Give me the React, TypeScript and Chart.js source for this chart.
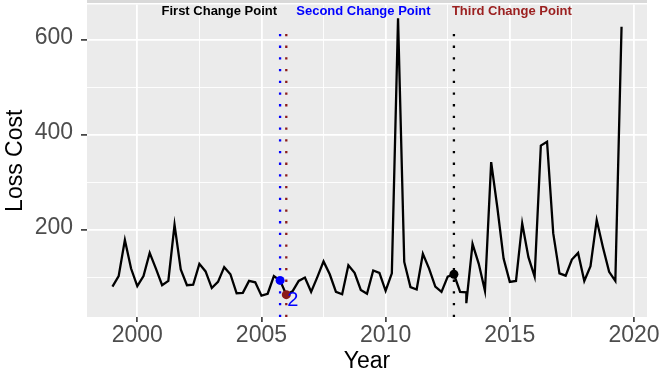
import React, { useEffect, useRef } from 'react';
import { Chart, registerables } from 'chart.js';

Chart.register(...registerables);

// ---- Data ----
const firstYear = 1999; // first quarter of the series
const quarterStep = 0.25;
const lossCost = [
  80, 102, 178, 118,
  81, 102, 151, 118,
  83, 92, 210, 116,
  83, 84, 128, 112,
  77, 90, 121, 106,
  66, 67, 92, 89,
  61, 65, 102, 93,
  63, 70, 92, 99,
  69, 100, 133, 106,
  69, 64, 125, 109,
  73, 65, 114, 109,
  71, 108, 645, 132,
  79, 74, 149, 118,
  80, 69, 101, 106,
  69, 68, 170, 128,
  71, 342, 246, 139,
  90, 92, 213, 142,
  101, 377, 385, 192,
  108, 103, 137, 151,
  92, 123, 220, 163,
  111, 92, 627,
];
const extraYear = 2013.25;
const extraValue = 45;

const xTickYears = [2000, 2005, 2010, 2015, 2020];
const xMinorYears = [2002.5, 2007.5, 2012.5, 2017.5];
const yTickValues = [200, 400, 600];
const yMinorValues = [100, 300, 500];

const changePointYears = [2005.75, 2006.0, 2012.75];
const changePointColors = ['#0000FF', '#8B1A1A', '#000000'];
const changeLabels = ['First Change Point', 'Second Change Point', 'Third Change Point'];
const changeLabelColors = ['#000000', '#0000FF', '#9B2020'];
const vlineTopValue = 632;
const pointLabel = '2';

const X_MIN = 1997.975;
const X_MAX = 2020.525;
const Y_MIN = 16;
const Y_MAX = 674;

const FONT = '"Liberation Sans", Arial, Helvetica, sans-serif';

function buildSeries() {
  const pts: { x: number; y: number }[] = [];
  lossCost.forEach((v, i) => {
    const x = firstYear + i * quarterStep;
    pts.push({ x, y: v });
    if (Math.abs(x - extraYear) < 1e-9) pts.push({ x: extraYear, y: extraValue });
  });
  return pts;
}

function valueAt(year: number) {
  return lossCost[Math.round((year - firstYear) / quarterStep)];
}

export default function App() {
  const ref = useRef<HTMLCanvasElement | null>(null);

  useEffect(() => {
    document.body.style.margin = '0';
    const canvas = ref.current!;
    const series = buildSeries();

    const decor = {
      id: 'decor',
      beforeDraw(chart: any) {
        const { ctx, chartArea: a } = chart;
        ctx.save();
        ctx.fillStyle = '#EBEBEB';
        ctx.fillRect(a.left, a.top, a.right - a.left, a.bottom - a.top);
        ctx.fillStyle = '#D9D9D9';
        ctx.fillRect(a.left, 0, a.right - a.left, 3);
        ctx.restore();
      },
      beforeDatasetsDraw(chart: any) {
        const { ctx, chartArea: a, scales } = chart;
        ctx.save();
        changePointYears.forEach((yr, i) => {
          const x = scales.x.getPixelForValue(yr);
          const yTop = scales.y.getPixelForValue(vlineTopValue);
          ctx.strokeStyle = changePointColors[i];
          ctx.lineWidth = 2.3;
          ctx.setLineDash([2.3, 9.4]);
          ctx.beginPath();
          ctx.moveTo(x, a.bottom);
          ctx.lineTo(x, yTop);
          ctx.stroke();
        });
        ctx.restore();
      },
      afterDraw(chart: any) {
        const { ctx, chartArea: a, scales } = chart;
        ctx.save();
        // "2" label near second change point
        const px = scales.x.getPixelForValue(changePointYears[1]);
        const py = scales.y.getPixelForValue(valueAt(changePointYears[1]));
        ctx.fillStyle = '#0000FF';
        ctx.font = `20px ${FONT}`;
        ctx.textAlign = 'left';
        ctx.textBaseline = 'alphabetic';
        ctx.fillText(pointLabel, px + 1, py + 11);

        // change point labels
        ctx.font = `bold 13px ${FONT}`;
        const offsets = [-3, 10, -2];
        const aligns = ['right', 'left', 'left'];
        changeLabels.forEach((t, i) => {
          const x = scales.x.getPixelForValue(changePointYears[i]) + offsets[i];
          ctx.fillStyle = changeLabelColors[i];
          ctx.textAlign = aligns[i];
          ctx.fillText(t, x, 15);
        });

        // axis titles
        ctx.fillStyle = '#000000';
        ctx.font = `23px ${FONT}`;
        ctx.textAlign = 'center';
        ctx.fillText('Year', (a.left + a.right) / 2, 368);
        ctx.translate(21.7, (a.top + a.bottom) / 2);
        ctx.rotate(-Math.PI / 2);
        ctx.fillText('Loss Cost', 0, 0);
        ctx.restore();
      },
    };

    const chart = new Chart(canvas, {
      type: 'line',
      data: {
        datasets: [
          ...changePointYears.map((yr, i) => ({
            type: 'scatter' as const,
            data: [{ x: yr, y: valueAt(yr) }],
            pointRadius: 4.5,
            pointBackgroundColor: changePointColors[i],
            pointBorderWidth: 0,
            showLine: false,
            order: 0,
          })),
          {
            data: series,
            borderColor: '#000000',
            borderWidth: 2.3,
            pointRadius: 0,
            tension: 0,
            fill: false,
            order: 1,
          },
        ],
      },
      plugins: [decor],
      options: {
        animation: false,
        responsive: false,
        devicePixelRatio: 1,
        layout: { padding: { left: 0, right: 15, top: 1, bottom: 0 } },
        plugins: { legend: { display: false }, tooltip: { enabled: false } },
        scales: {
          x: {
            type: 'linear',
            min: X_MIN,
            max: X_MAX,
            afterBuildTicks: (s: any) => {
              s.ticks = [...xTickYears, ...xMinorYears].sort((p, q) => p - q).map((v) => ({ value: v }));
            },
            afterFit: (s: any) => {
              s.height = 59;
              s.paddingLeft = 0;
              s.paddingRight = 0;
            },
            border: { display: false },
            grid: {
              color: '#FFFFFF',
              lineWidth: (c: any) => (xTickYears.includes(c.tick?.value) ? 1.8 : 0.9),
              tickColor: (c: any) => (xTickYears.includes(c.tick?.value) ? '#333333' : 'rgba(0,0,0,0)'),
              tickWidth: 1.6,
              tickLength: 5,
              drawTicks: true,
            },
            ticks: {
              autoSkip: false,
              maxRotation: 0,
              padding: 0,
              color: '#4D4D4D',
              font: { family: FONT, size: 23 },
              callback: (v: any) => (xTickYears.includes(Number(v)) ? String(v) : ''),
            },
          },
          y: {
            type: 'linear',
            min: Y_MIN,
            max: Y_MAX,
            afterBuildTicks: (s: any) => {
              s.ticks = [...yMinorValues, ...yTickValues].sort((p, q) => p - q).map((v) => ({ value: v }));
            },
            afterFit: (s: any) => {
              s.width = 87;
              s.paddingTop = 0;
              s.paddingBottom = 0;
            },
            border: { display: false },
            grid: {
              color: '#FFFFFF',
              lineWidth: (c: any) => (yTickValues.includes(c.tick?.value) ? 1.8 : 0.9),
              tickColor: (c: any) => (yTickValues.includes(c.tick?.value) ? '#333333' : 'rgba(0,0,0,0)'),
              tickWidth: 1.6,
              tickLength: 6,
              drawTicks: true,
            },
            ticks: {
              padding: 8,
              labelOffset: -2,
              color: '#4D4D4D',
              font: { family: FONT, size: 23 },
              callback: (v: any) => (yTickValues.includes(Number(v)) ? String(v) : ''),
            },
          },
        },
      } as any,
    });

    return () => chart.destroy();
  }, []);

  return <canvas ref={ref} width={662} height={376} style={{ display: 'block', width: 662, height: 376 }} />;
}
